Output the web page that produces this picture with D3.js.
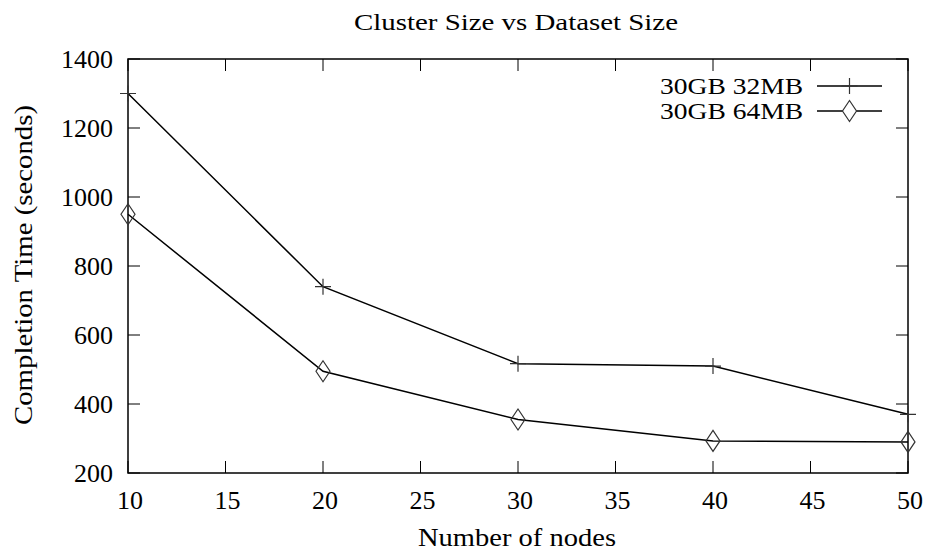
<!DOCTYPE html>
<html>
<head>
<meta charset="utf-8">
<script src="https://cdn.jsdelivr.net/npm/d3@7"></script>
<style>
  body { margin: 0; background: #fff; }
</style>
</head>
<body>
<svg id="chart" width="929" height="555" font-family="'Liberation Serif', 'DejaVu Serif', serif"></svg>
<script>
const nodes = [10, 20, 30, 40, 50];
const time32 = [1300, 740, 517, 510, 370];
const time64 = [950, 495, 355, 293, 290];
const seriesNames = ["30GB 32MB", "30GB 64MB"];
const xTicks = [10, 15, 20, 25, 30, 35, 40, 45, 50];
const yTicks = [200, 400, 600, 800, 1000, 1200, 1400];

const margin = { top: 59, right: 21, bottom: 82, left: 128 },
      width = 929 - margin.left - margin.right,
      height = 555 - margin.top - margin.bottom;

const svg = d3.select("#chart");
const g = svg.append("g").attr("transform", `translate(${margin.left},${margin.top})`);

const x = d3.scaleLinear().domain([10, 50]).range([0, width]);
const y = d3.scaleLinear().domain([200, 1400]).range([height, 0]);

const fontSize = 26;
const tickLen = 12;

// frame
g.append("rect")
  .attr("width", width).attr("height", height)
  .attr("fill", "none").attr("stroke", "#000").attr("stroke-width", 1.5);

// inward ticks on all four sides
xTicks.forEach(t => {
  g.append("line").attr("x1", x(t)).attr("x2", x(t)).attr("y1", height).attr("y2", height - tickLen)
    .attr("stroke", "#000");
  g.append("line").attr("x1", x(t)).attr("x2", x(t)).attr("y1", 0).attr("y2", tickLen)
    .attr("stroke", "#000");
  g.append("text").attr("x", x(t) + 2).attr("y", height + 27).attr("dy", "0.35em")
    .attr("text-anchor", "middle").style("font-size", fontSize + "px").text(t);
});
yTicks.forEach(t => {
  g.append("line").attr("x1", 0).attr("x2", tickLen).attr("y1", y(t)).attr("y2", y(t))
    .attr("stroke", "#000");
  g.append("line").attr("x1", width).attr("x2", width - tickLen).attr("y1", y(t)).attr("y2", y(t))
    .attr("stroke", "#000");
  g.append("text").attr("x", -15).attr("y", y(t)).attr("dy", "0.35em")
    .attr("text-anchor", "end").style("font-size", fontSize + "px").text(t);
});

const line = d3.line().x((d, i) => x(nodes[i])).y(d => y(d));

function plus(s) { return `M${-s},0H${s}M0,${-s}V${s}`; }
function diamond(w, h) { return `M0,${-h}L${w},0L0,${h}L${-w},0Z`; }
const markers = [plus(8), diamond(7, 10.5)];

[time32, time64].forEach((vals, k) => {
  g.append("path").datum(vals).attr("d", line)
    .attr("fill", "none").attr("stroke", "#000").attr("stroke-width", 1.5);
  g.selectAll(null).data(vals).enter().append("path")
    .attr("transform", (d, i) => `translate(${x(nodes[i])},${y(d)})`)
    .attr("d", markers[k])
    .attr("fill", "none").attr("stroke", "#333").attr("stroke-width", 1.2);
});

// legend
seriesNames.forEach((name, k) => {
  const ly = 86 + k * 25;
  svg.append("text").attr("x", 660).attr("y", ly).attr("dy", "0.35em")
    .attr("textLength", 143).attr("lengthAdjust", "spacingAndGlyphs")
    .style("font-size", "24px").text(name);
  svg.append("line").attr("x1", 817).attr("x2", 882).attr("y1", ly).attr("y2", ly)
    .attr("stroke", "#000").attr("stroke-width", 1.5);
  svg.append("path").attr("transform", `translate(849.5,${ly})`).attr("d", markers[k])
    .attr("fill", k === 1 ? "#fff" : "none").attr("stroke", "#333").attr("stroke-width", 1.2);
});

// titles
svg.append("text").attr("x", 354).attr("y", 30)
  .attr("textLength", 324).attr("lengthAdjust", "spacingAndGlyphs")
  .style("font-size", "24px").text("Cluster Size vs Dataset Size");
svg.append("text").attr("x", 418).attr("y", 546)
  .attr("textLength", 198).attr("lengthAdjust", "spacingAndGlyphs")
  .style("font-size", fontSize + "px").text("Number of nodes");
svg.append("text").attr("transform", "translate(32,425) rotate(-90)")
  .attr("textLength", 320).attr("lengthAdjust", "spacingAndGlyphs")
  .style("font-size", fontSize + "px").text("Completion Time (seconds)");
</script>
</body>
</html>
